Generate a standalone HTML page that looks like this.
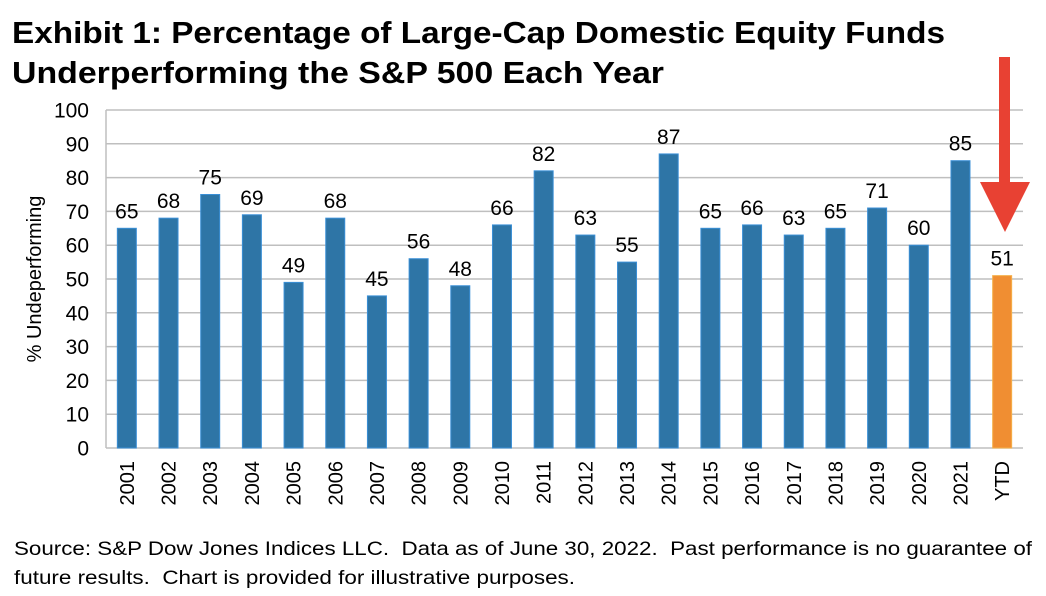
<!DOCTYPE html>
<html><head><style>
body{margin:0;background:#fff;}
svg text{font-family:"Liberation Sans",Arial,sans-serif;}
</style></head><body>
<svg width="1046" height="591" xmlns="http://www.w3.org/2000/svg">
<text x="12" y="43" font-size="31" font-weight="bold" fill="#000" textLength="933" lengthAdjust="spacingAndGlyphs">Exhibit 1: Percentage of Large-Cap Domestic Equity Funds</text>
<text x="12" y="83" font-size="31" font-weight="bold" fill="#000" textLength="652" lengthAdjust="spacingAndGlyphs">Underperforming the S&amp;P 500 Each Year</text>
<g id="grid" stroke="#bfbfbf" stroke-width="1.5"></g>
<g id="bars"></g>
<text transform="translate(41,279) rotate(-90)" font-size="20" text-anchor="middle">% Undeperforming</text>
<text x="14" y="555" font-size="19.5" textLength="1018" lengthAdjust="spacingAndGlyphs" xml:space="preserve">Source: S&amp;P Dow Jones Indices LLC.  Data as of June 30, 2022.  Past performance is no guarantee of</text>
<text x="14" y="584" font-size="19.5" textLength="561" lengthAdjust="spacingAndGlyphs" xml:space="preserve">future results.  Chart is provided for illustrative purposes.</text>
<rect x="999" y="57" width="11" height="127" fill="#e84133"/>
<polygon points="980,182 1030,182 1005,232" fill="#e84133"/>
<script>
var g=document.getElementById('grid'),b=document.getElementById('bars'),ns='http://www.w3.org/2000/svg';
function el(p,t,a,txt){var e=document.createElementNS(ns,t);for(var k in a)e.setAttribute(k,a[k]);if(txt!=null)e.textContent=txt;p.appendChild(e);return e;}
var y0=448,s=3.38,L=106,R=1023;
for(var i=0;i<=10;i++){var y=y0-i*10*s;el(g,'line',{x1:L,x2:R,y1:y,y2:y});
el(b,'text',{x:89,y:y+7.5,'font-size':21,'text-anchor':'end'},i*10);}
el(g,'line',{x1:L,x2:L,y1:110,y2:y0});
var v=[65,68,75,69,49,68,45,56,48,66,82,63,55,87,65,66,63,65,71,60,85,51];
var sw=(R-L)/22;
for(var i=0;i<22;i++){var cx=L+sw*(i+0.5),h=v[i]*s,ytd=i==21;
el(b,'rect',{x:cx-9.5,y:y0-h,width:19,height:h,fill:ytd?'#f08e32':'#2e75a6',stroke:ytd?'#f5b04a':'#3a8fd6','stroke-width':1});
el(b,'text',{x:cx,y:y0-h-10,'font-size':21,'text-anchor':'middle'},v[i]);
el(b,'text',{transform:'translate('+(cx+7)+',461) rotate(-90)','font-size':20,'text-anchor':'end'},ytd?'YTD':(2001+i));}
</script>
</svg>
</body></html>
